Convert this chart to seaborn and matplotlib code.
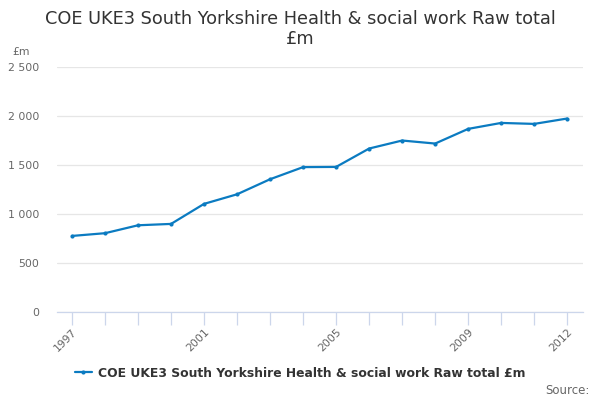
import pandas as pd
import numpy as np
import matplotlib
matplotlib.use("Agg")
import matplotlib.pyplot as plt
import seaborn as sns

# --------------------------------------------------------------
# Data
# --------------------------------------------------------------
years = list(range(1997, 2013))
values = [774, 802, 883, 897, 1102, 1200, 1354, 1478, 1480, 1668,
          1750, 1719, 1869, 1930, 1920, 1975]
year_labels = ["1997", "2001", "2005", "2009", "2012"]
y_ticks = [0, 500, 1000, 1500, 2000, 2500]
y_labels = ["0", "500", "1 000", "1 500", "2 000", "2 500"]
series_name = "COE UKE3 South Yorkshire Health & social work Raw total £m"

df = pd.DataFrame({"year": years, "value": values})

# --------------------------------------------------------------
# Plot
# --------------------------------------------------------------
sns.set_style("white")
plt.rcParams["font.family"] = ["DejaVu Sans"]

line_color = "#0b7bc1"
fig = plt.figure(figsize=(6, 4), dpi=100)
ax = fig.add_axes([0.095, 0.221, 0.877, 0.611])

sns.lineplot(data=df, x="year", y="value", ax=ax, color=line_color,
             marker="o", markersize=3, markeredgewidth=0, linewidth=1.6,
             label=series_name)

ax.set_xlim(1996.545, 2012.485)
ax.set_ylim(0, 2500)
ax.set_xlabel("")
ax.set_ylabel("")

ax.set_yticks(y_ticks)
ax.set_yticklabels(y_labels, color="#666666", fontsize=7.8)
ax.yaxis.grid(True, color="#e6e6e6", linewidth=0.9)
ax.tick_params(axis="y", length=0, pad=13)

ax.set_xticks(years)
ax.set_xticklabels([str(y) if str(y) in year_labels else "" for y in years],
                   rotation=45, ha="right", rotation_mode="anchor",
                   color="#666666", fontsize=7.8)
ax.tick_params(axis="x", bottom=True, length=9, width=0.9, color="#ccd6eb",
               direction="out", pad=2)

for side in ["top", "right", "left"]:
    ax.spines[side].set_visible(False)
ax.spines["bottom"].set_color("#ccd6eb")
ax.spines["bottom"].set_linewidth(0.9)

fig.text(0.5, 0.927, "COE UKE3 South Yorkshire Health & social work Raw total\n£m",
         ha="center", va="center", fontsize=12.8, color="#333333", linespacing=1.15)
fig.text(0.02, 0.87, "£m", fontsize=7.8, color="#666666", va="center")

leg = ax.legend(loc="center", bbox_to_anchor=(0.5, 0.067), bbox_transform=fig.transFigure,
                frameon=False, handlelength=1.4, handletextpad=0.5,
                prop={"weight": "bold", "size": 8.9})
for t in leg.get_texts():
    t.set_color("#333333")

fig.text(0.983, 0.025, "Source:", ha="right", va="center", fontsize=8.5, color="#666666")

plt.savefig("out.png", dpi=100)
